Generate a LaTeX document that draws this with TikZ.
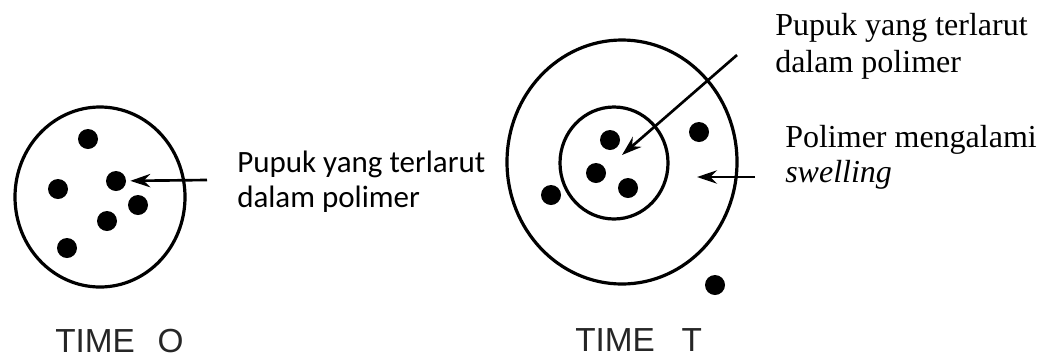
\documentclass[tikz,border=0pt]{standalone}
\usepackage{fontspec}
\setmainfont{Liberation Serif}
\newfontfamily\calibrifont{Carlito}
\newfontfamily\arialfont{Liberation Sans}
\usepackage{tikz}
\usetikzlibrary{
	shapes.geometric,
	arrows.meta,
	positioning
}

\begin{document}
\begin{tikzpicture}[
    x=0.75pt, y=-0.75pt,
    ring/.style={ellipse, draw, line width=2.4pt, inner sep=0pt},
    granule/.style={circle, fill=black, inner sep=0pt, minimum size=15pt},
    arrow/.style={line width=2pt, -{Stealth[length=15pt, width=10pt, inset=5pt]}},
    note/.style={anchor=base west, inner sep=0pt, align=left},
    caption/.style={font=\arialfont\fontsize{25pt}{30pt}\selectfont, text=black!85, anchor=base west, inner sep=0pt}
]
\useasboundingbox (0,0) rectangle (1041,358);

% Time 0
\node[ring, minimum width=127.5pt, minimum height=135pt] (matrix0) at (100,197) {};
\node[granule] (g1) at (88,139) {};
\node[granule] (g2) at (58,189) {};
\node[granule] (g3) at (116,181) {};
\node[granule] (g4) at (138,205) {};
\node[granule] (g5) at (107,221) {};
\node[granule] (g6) at (67,248) {};
\node[caption] (time0) at (55,352) {TIME\hspace{17pt}O};

% Time T
\node[ring, minimum width=172.5pt, minimum height=183pt] (swollen) at (622,162) {};
\node[ring, minimum width=81pt, minimum height=84pt] (core) at (614,163) {};
\node[granule] (h1) at (610,140) {};
\node[granule] (h2) at (596,173) {};
\node[granule] (h3) at (628,188) {};
\node[granule] (h4) at (699,132) {};
\node[granule] (h5) at (551,195) {};
\node[granule] (h6) at (715,285) {};
\node[caption] (timeT) at (575,351) {TIME\hspace{20pt}T};

% Labels (anchored at the baseline of the last line)
\node[note, font=\calibrifont\fontsize{23.25pt}{26.25pt}\selectfont] (labdissolved0) at (237,207) {Pupuk yang terlarut\\dalam polimer};
\node[note, font=\fontsize{24pt}{27.75pt}\selectfont] (labdissolvedT) at (775,72) {Pupuk yang terlarut\\dalam polimer};
\node[note, font=\fontsize{24pt}{26.25pt}\selectfont] (labswelling) at (785,182) {Polimer mengalami\\\textit{swelling}};

% Arrows
\coordinate (tail0) at (207,180);
\coordinate (tailT) at (737,55);
\coordinate (tipT) at (622,155);
\coordinate (tailS) at (755,177);
\coordinate (tipS) at (697,177);
\draw[arrow, shorten >=3pt] (tail0) -- (g3);
\draw[arrow] (tailT) -- (tipT);
\draw[arrow] (tailS) -- (tipS);

\end{tikzpicture}
\end{document}
